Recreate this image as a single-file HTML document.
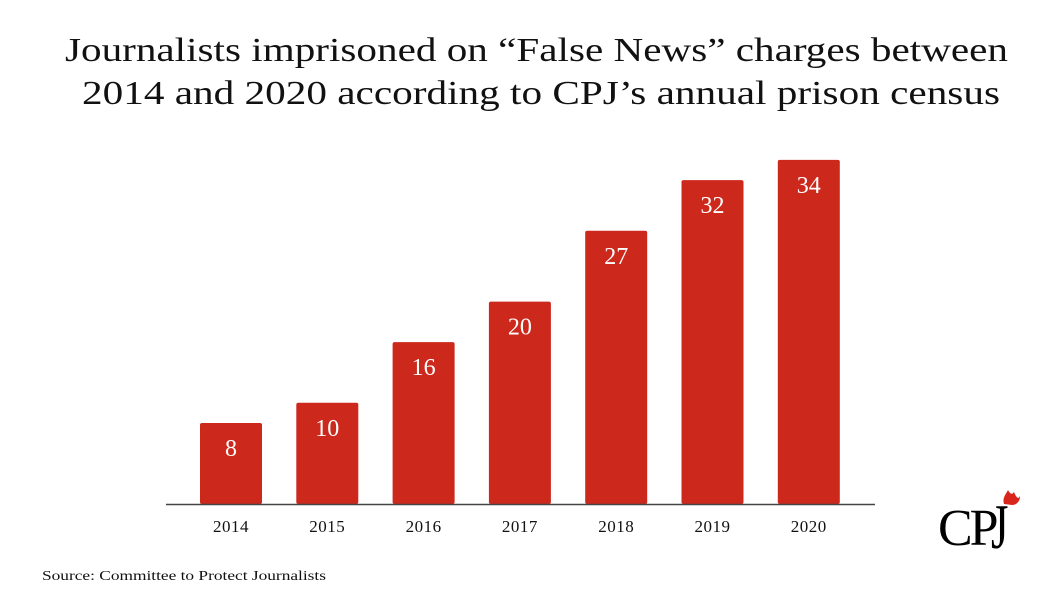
<!DOCTYPE html>
<html><head><meta charset="utf-8"><style>
body{margin:0;background:#fff;width:1062px;height:600px;overflow:hidden;font-family:"Liberation Serif",serif}
</style></head><body>
<svg width="1062" height="600" style="position:absolute;left:0;top:0">
<text x="65" y="61" font-size="34" fill="#111" textLength="943" lengthAdjust="spacingAndGlyphs">Journalists imprisoned on “False News” charges between</text>
<text x="82" y="104" font-size="34" fill="#111" textLength="918" lengthAdjust="spacingAndGlyphs">2014 and 2020 according to CPJ’s annual prison census</text>
<g id="bars"></g>
<line x1="166" y1="504.5" x2="875" y2="504.5" stroke="#444" stroke-width="1.5"/>
<text x="42" y="580" font-size="14" fill="#111" textLength="284" lengthAdjust="spacingAndGlyphs">Source: Committee to Protect Journalists</text>
<g>
<text x="938" y="545" font-size="52" fill="#000" letter-spacing="-3">CP</text>
<text x="991" y="548" font-size="64" fill="#000" transform="translate(991 548) scale(0.7 1) translate(-991 -548)">J</text>
<path d="M1004 504 C1002 498 1006 494 1008 490 C1010 494 1012 495 1014 492 C1016 497 1018 500 1020 496 C1020 502 1016 505 1012 505 Z" fill="#d8261c"/>
</g>
</svg>
<script>
const categories=["2014","2015","2016","2017","2018","2019","2020"];
const values=[8,10,16,20,27,32,34];
const ns="http://www.w3.org/2000/svg";
const g=document.getElementById("bars");
const base=504, k=10.12, x0=200, step=96.3, bw=62;
function y(v){return base-v*k;}
function x(i){return x0+i*step;}
categories.forEach((c,i)=>{
  const r=document.createElementNS(ns,"rect");
  r.setAttribute("x",x(i));r.setAttribute("y",y(values[i]));
  r.setAttribute("width",bw);r.setAttribute("height",base-y(values[i]));
  r.setAttribute("rx",2);r.setAttribute("fill","#cc281c");
  
  
  g.appendChild(r);
  const t=document.createElementNS(ns,"text");
  t.setAttribute("x",x(i)+bw/2);t.setAttribute("y",y(values[i])+33);
  t.setAttribute("text-anchor","middle");t.setAttribute("font-size","24");t.setAttribute("fill","#fff");
  t.textContent=values[i];
  
  
  g.appendChild(t);
  const l=document.createElementNS(ns,"text");
  l.setAttribute("x",x(i)+bw/2);l.setAttribute("y",532);
  l.setAttribute("text-anchor","middle");l.setAttribute("font-size","17");l.setAttribute("fill","#111");
  l.setAttribute("letter-spacing","0.5");
  l.textContent=c;
  
  
  g.appendChild(l);
});
</script>
</body></html>
